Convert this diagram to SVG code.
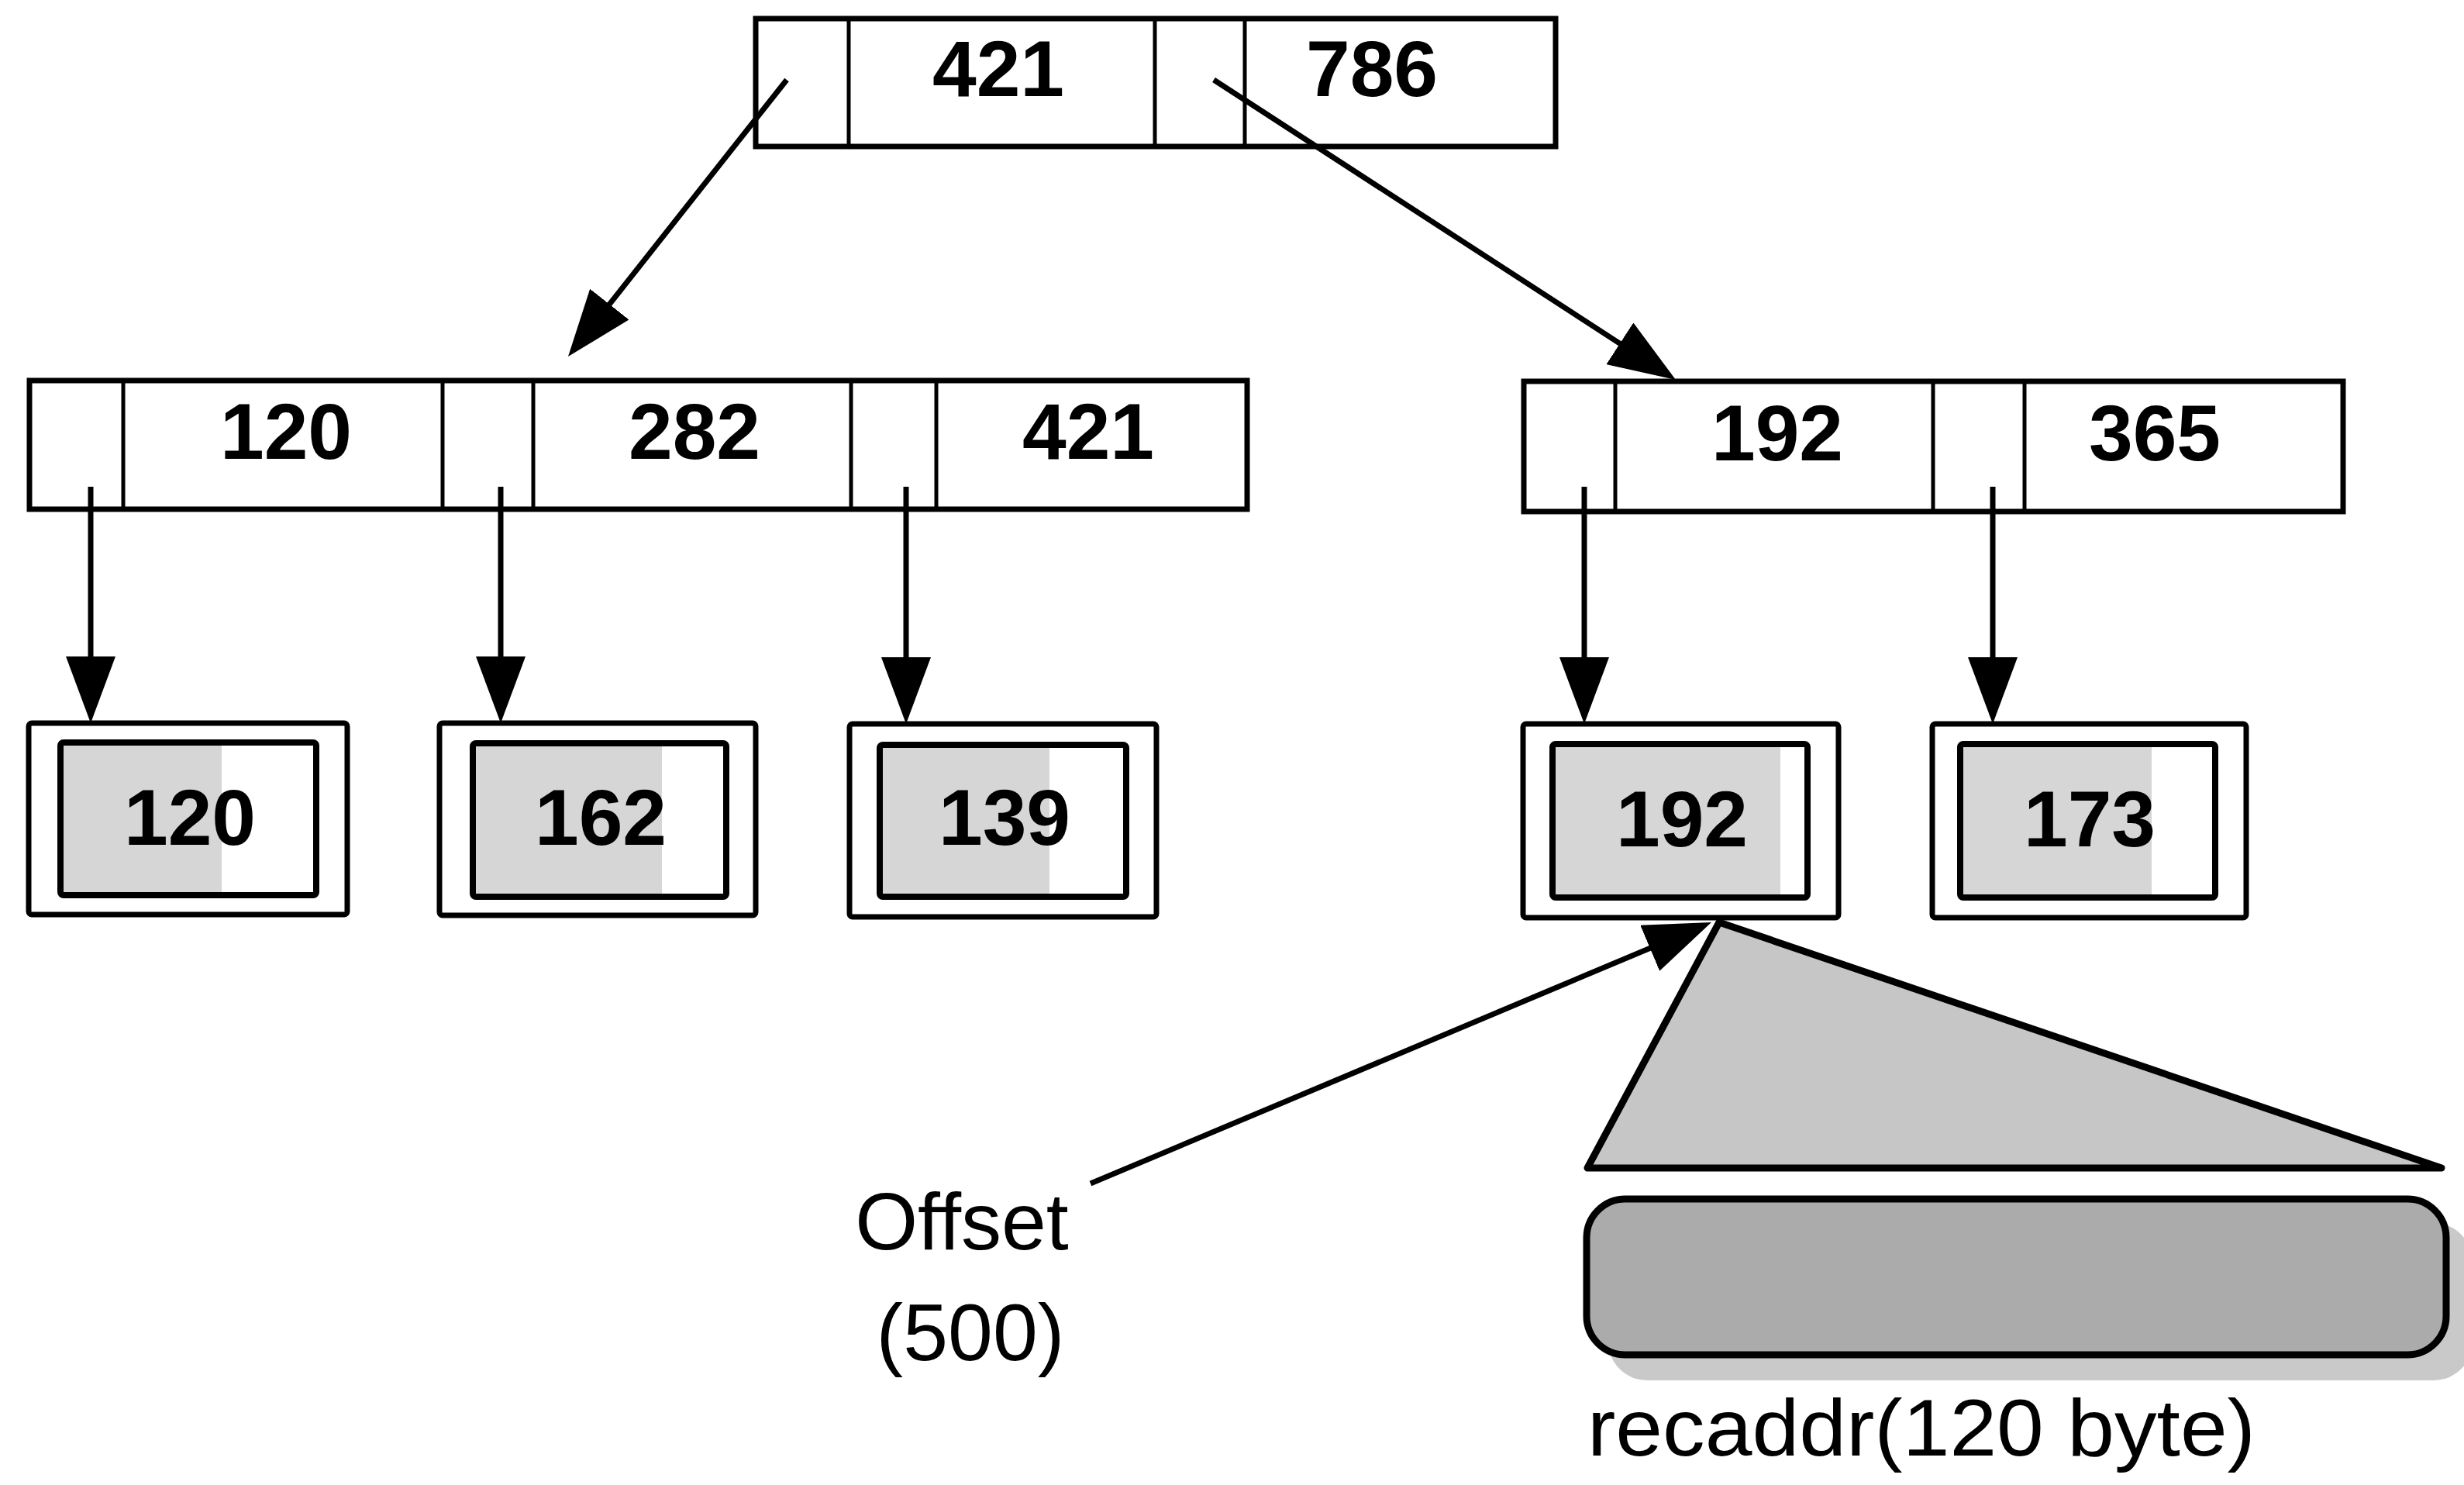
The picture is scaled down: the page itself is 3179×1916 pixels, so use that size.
<svg xmlns="http://www.w3.org/2000/svg" width="3179" height="1916" viewBox="0 0 3179 1916">
<style>
  .box{fill:#fff;stroke:#000;stroke-width:7}
  .div{stroke:#000;stroke-width:5}
  .key{font-family:"Liberation Sans",Arial,sans-serif;font-weight:bold;font-size:102px;text-anchor:middle;fill:#000}
  .lbl{font-family:"Liberation Sans",Arial,sans-serif;font-size:104px;fill:#000}
  .outer{fill:#fff;stroke:#000;stroke-width:7}
  .inner{fill:#fff;stroke:#000;stroke-width:8}
  .shade{fill:#d6d6d6}
  .conn{stroke:#000;stroke-width:7;fill:none;marker-end:url(#ah)}
</style>
<defs>
  <marker id="ah" markerUnits="userSpaceOnUse" markerWidth="86" markerHeight="64" viewBox="0 0 86 64" refX="76" refY="32" orient="auto">
    <path d="M0,0 L86,32 L0,64 Z" fill="#000"/>
  </marker>
</defs>
<rect width="3179" height="1916" fill="#fff"/>

<g id="root">
  <rect class="box" x="975" y="24" width="1032" height="165"/>
  <line class="div" x1="1095" y1="24" x2="1095" y2="189"/>
  <line class="div" x1="1490" y1="24" x2="1490" y2="189"/>
  <line class="div" x1="1606" y1="24" x2="1606" y2="189"/>
  <text class="key" x="1288" y="124">421</text>
  <text class="key" x="1770" y="124">786</text>
</g>

<g id="inner-left">
  <rect class="box" x="38" y="491" width="1571" height="166"/>
  <line class="div" x1="159" y1="491" x2="159" y2="657"/>
  <line class="div" x1="571" y1="491" x2="571" y2="657"/>
  <line class="div" x1="688" y1="491" x2="688" y2="657"/>
  <line class="div" x1="1098" y1="491" x2="1098" y2="657"/>
  <line class="div" x1="1208" y1="491" x2="1208" y2="657"/>
  <text class="key" x="369" y="592">120</text>
  <text class="key" x="896" y="592">282</text>
  <text class="key" x="1404" y="592">421</text>
</g>

<g id="inner-right">
  <rect class="box" x="1966" y="492" width="1057" height="168"/>
  <line class="div" x1="2084" y1="492" x2="2084" y2="660"/>
  <line class="div" x1="2494" y1="492" x2="2494" y2="660"/>
  <line class="div" x1="2612" y1="492" x2="2612" y2="660"/>
  <text class="key" x="2293" y="594">192</text>
  <text class="key" x="2780" y="594">365</text>
</g>

<g id="leaf-120">
  <rect class="outer" x="37" y="933" width="411" height="247" rx="4"/>
  <rect class="inner" x="78" y="958" width="330" height="197" rx="4"/>
  <rect class="shade" x="82" y="962" width="204" height="189"/>
  <text class="key" x="245" y="1090">120</text>
</g>

<g id="leaf-162">
  <rect class="outer" x="567" y="933" width="408" height="248" rx="4"/>
  <rect class="inner" x="610" y="959" width="327" height="198" rx="4"/>
  <rect class="shade" x="614" y="963" width="240" height="190"/>
  <text class="key" x="775" y="1090">162</text>
</g>

<g id="leaf-139">
  <rect class="outer" x="1096" y="934" width="396" height="249" rx="4"/>
  <rect class="inner" x="1135" y="961" width="318" height="196" rx="4"/>
  <rect class="shade" x="1139" y="965" width="215" height="188"/>
  <text class="key" x="1296" y="1090">139</text>
</g>

<g id="leaf-192">
  <rect class="outer" x="1965" y="934" width="407" height="250" rx="4"/>
  <rect class="inner" x="2003" y="960" width="329" height="198" rx="4"/>
  <rect class="shade" x="2007" y="964" width="290" height="190"/>
  <text class="key" x="2170" y="1092">192</text>
</g>

<g id="leaf-173">
  <rect class="outer" x="2493" y="934" width="405" height="250" rx="4"/>
  <rect class="inner" x="2529" y="960" width="329" height="198" rx="4"/>
  <rect class="shade" x="2533" y="964" width="243" height="190"/>
  <text class="key" x="2696" y="1092">173</text>
</g>

<g id="record">
  <polygon points="2218,1190 2048,1507 3150,1507" fill="#c6c6c6" stroke="#000" stroke-width="9" stroke-linejoin="round"/>
  <rect x="2075" y="1578" width="1115" height="203" rx="50" fill="#c9c9c9"/>
  <rect x="2047" y="1547" width="1109" height="201" rx="50" fill="#ababab" stroke="#000" stroke-width="9"/>
  <text class="lbl" x="2048" y="1878" font-size="110" textLength="862" lengthAdjust="spacingAndGlyphs">recaddr(120 byte)</text>
</g>

<g id="offset-label">
  <text class="lbl" x="1241" y="1612" text-anchor="middle">Offset</text>
  <text class="lbl" x="1252" y="1755" text-anchor="middle">(500)</text>
</g>

<g id="connectors">
  <line class="conn" x1="1015" y1="103" x2="739.2" y2="452.2"/>
  <line class="conn" x1="1566" y1="103" x2="2153.6" y2="484.6"/>
  <line class="conn" x1="117" y1="628" x2="117" y2="923"/>
  <line class="conn" x1="646" y1="628" x2="646" y2="923"/>
  <line class="conn" x1="1169" y1="628" x2="1169" y2="924"/>
  <line class="conn" x1="2044" y1="628" x2="2044" y2="924"/>
  <line class="conn" x1="2571" y1="628" x2="2571" y2="924"/>
  <line class="conn" x1="1407" y1="1527" x2="2198.8" y2="1193.9"/>
</g>
</svg>
